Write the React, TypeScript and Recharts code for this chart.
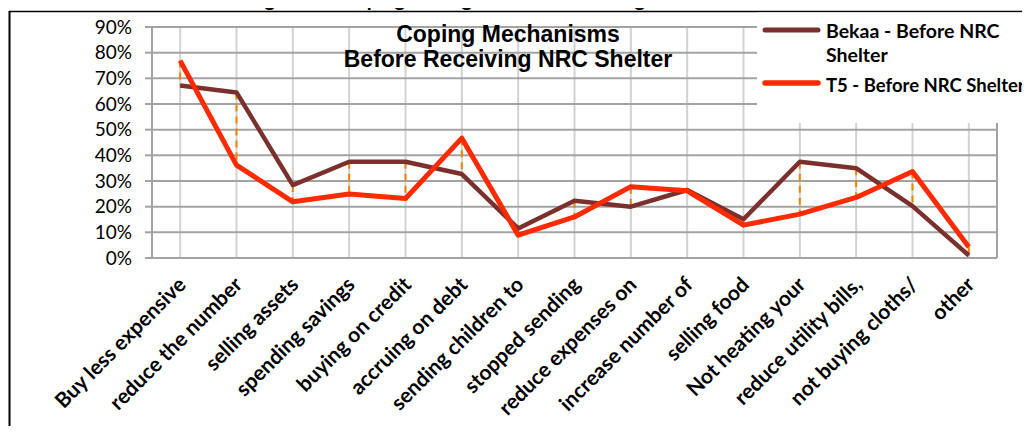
import React from 'react';
import { ComposedChart, Line, Bar, XAxis, YAxis, CartesianGrid } from 'recharts';

const categories = [
  'Buy less expensive',
  'reduce the number',
  'selling assets',
  'spending savings',
  'buying on credit',
  'accruing on debt',
  'sending children to',
  'stopped sending',
  'reduce expenses on',
  'increase number of',
  'selling food',
  'Not heating your',
  'reduce utility bills,',
  'not buying cloths/',
  'other',
];
const bekaaValues = [0.672, 0.645, 0.284, 0.375, 0.375, 0.327, 0.115, 0.223, 0.2, 0.265, 0.151, 0.375, 0.35, 0.202, 0.01];
const t5Values = [0.769, 0.362, 0.219, 0.249, 0.232, 0.467, 0.089, 0.16, 0.278, 0.262, 0.128, 0.171, 0.236, 0.337, 0.043];
const yTicks = [0, 0.1, 0.2, 0.3, 0.4, 0.5, 0.6, 0.7, 0.8, 0.9];
const boundaryTicks = [0, 1, 2, 3, 4, 5, 6, 7, 8, 9, 10, 11, 12, 13, 14, 15];
const figureTitle = 'Figure 33: Coping strategies before receiving NRC free shelter';
const chartTitle = ['Coping Mechanisms', 'Before Receiving NRC Shelter'];
const seriesNames = ['Bekaa - Before NRC', 'Shelter', 'T5 - Before NRC Shelter'];

const BROWN = '#7B302E';
const RED = '#FF2A00';
const ORANGE = '#F08200';
const GRID_DARK = '#a3a3a3';
const GRID_LIGHT = '#d2d2d2';
const CAL = 'Lato, "Open Sans", sans-serif';

const data = categories.map((name, i) => ({
  name,
  bekaa: bekaaValues[i],
  t5: t5Values[i],
  hl: [Math.min(bekaaValues[i], t5Values[i]), Math.max(bekaaValues[i], t5Values[i])],
}));

const XTick = (props: any) => {
  const { x, y, payload } = props;
  const ax = x + 7;
  const ay = y + 28;
  return (
    <text
      x={ax}
      y={ay}
      transform={`rotate(-45 ${ax} ${ay})`}
      textAnchor="end"
      fontFamily={CAL}
      fontWeight="bold"
      fontSize={21}
      fill="#000"
    >
      {payload.value}
    </text>
  );
};

const HiLo = (props: any) => {
  const { x, y, width, height } = props;
  if (x == null || y == null) return null;
  const cx = x + width / 2;
  const y1 = Math.min(y, y + height);
  const y2 = Math.max(y, y + height);
  return <line x1={cx} x2={cx} y1={y1} y2={y2} stroke={ORANGE} strokeWidth={2} strokeDasharray="7 5" />;
};

export default function App() {
  return (
    <div style={{ position: 'relative', width: 1030, height: 434, margin: -8, background: '#fff', overflow: 'hidden' }}>
      <ComposedChart width={1030} height={434} data={data} margin={{ top: 27, right: 33, bottom: 16, left: 92 }}>
        <CartesianGrid xAxisId="cat" yAxisId="y" stroke={GRID_LIGHT} strokeWidth={2} horizontal={false} vertical={true} />
        <CartesianGrid xAxisId="num" yAxisId="y" stroke={GRID_DARK} strokeWidth={2} horizontal={true} vertical={true} />
        <XAxis
          xAxisId="num"
          type="number"
          domain={[0, 15]}
          ticks={boundaryTicks}
          interval={0}
          height={0}
          tick={false}
          tickSize={5}
          tickLine={{ stroke: GRID_DARK, strokeWidth: 2 }}
          axisLine={{ stroke: GRID_DARK, strokeWidth: 2 }}
          allowDataOverflow
        />
        <XAxis
          xAxisId="cat"
          dataKey="name"
          type="category"
          height={160}
          interval={0}
          tick={<XTick />}
          tickLine={false}
          axisLine={false}
          tickSize={0}
          tickMargin={0}
        />
        <YAxis
          yAxisId="y"
          domain={[0, 0.9]}
          ticks={yTicks}
          interval={0}
          width={60}
          tickFormatter={(v: number) => `${Math.round(v * 100)}%`}
          tick={{ fontFamily: CAL, fontSize: 19, fill: '#000' }}
          tickSize={7}
          tickMargin={13}
          tickLine={{ stroke: GRID_DARK, strokeWidth: 2 }}
          axisLine={{ stroke: GRID_DARK, strokeWidth: 2 }}
        />
        <Line xAxisId="cat" yAxisId="y" dataKey="bekaa" stroke={BROWN} strokeWidth={4.5} dot={false} isAnimationActive={false} strokeLinejoin="round" />
        <Line xAxisId="cat" yAxisId="y" dataKey="t5" stroke={RED} strokeWidth={5} dot={false} isAnimationActive={false} strokeLinejoin="round" />
        <Bar xAxisId="cat" yAxisId="y" dataKey="hl" shape={<HiLo />} isAnimationActive={false} />
      </ComposedChart>
      <svg width={1030} height={434} style={{ position: 'absolute', left: 0, top: 0, pointerEvents: 'none' }}>
        <text x={523} y={5.5} textAnchor="middle" fontFamily={CAL} fontWeight="bold" fontSize={20} fill="#000">
          {figureTitle}
        </text>
        <line x1={9} x2={1030} y1={11.5} y2={11.5} stroke="#000" strokeWidth={1.5} />
        <line x1={9.5} x2={9.5} y1={11} y2={434} stroke="#000" strokeWidth={2} />
        <rect x={757} y={12.5} width={280} height={110.5} fill="#fff" />
        <text x={508} y={41.5} textAnchor="middle" fontFamily="'Liberation Sans', Arial, sans-serif" fontWeight="bold" fontSize={23} fill="#000">
          {chartTitle[0]}
        </text>
        <text x={508} y={66.5} textAnchor="middle" fontFamily="'Liberation Sans', Arial, sans-serif" fontWeight="bold" fontSize={23} fill="#000">
          {chartTitle[1]}
        </text>
        <line x1={765} x2={818} y1={30} y2={30} stroke={BROWN} strokeWidth={5} strokeLinecap="round" />
        <line x1={765} x2={818} y1={83} y2={83} stroke={RED} strokeWidth={5.5} strokeLinecap="round" />
        <text x={826} y={38} fontFamily={CAL} fontWeight="bold" fontSize={19.5} fill="#000">{seriesNames[0]}</text>
        <text x={826} y={62} fontFamily={CAL} fontWeight="bold" fontSize={19.5} fill="#000">{seriesNames[1]}</text>
        <text x={826} y={91.5} fontFamily={CAL} fontWeight="bold" fontSize={18.5} fill="#000">{seriesNames[2]}</text>
      </svg>
    </div>
  );
}
